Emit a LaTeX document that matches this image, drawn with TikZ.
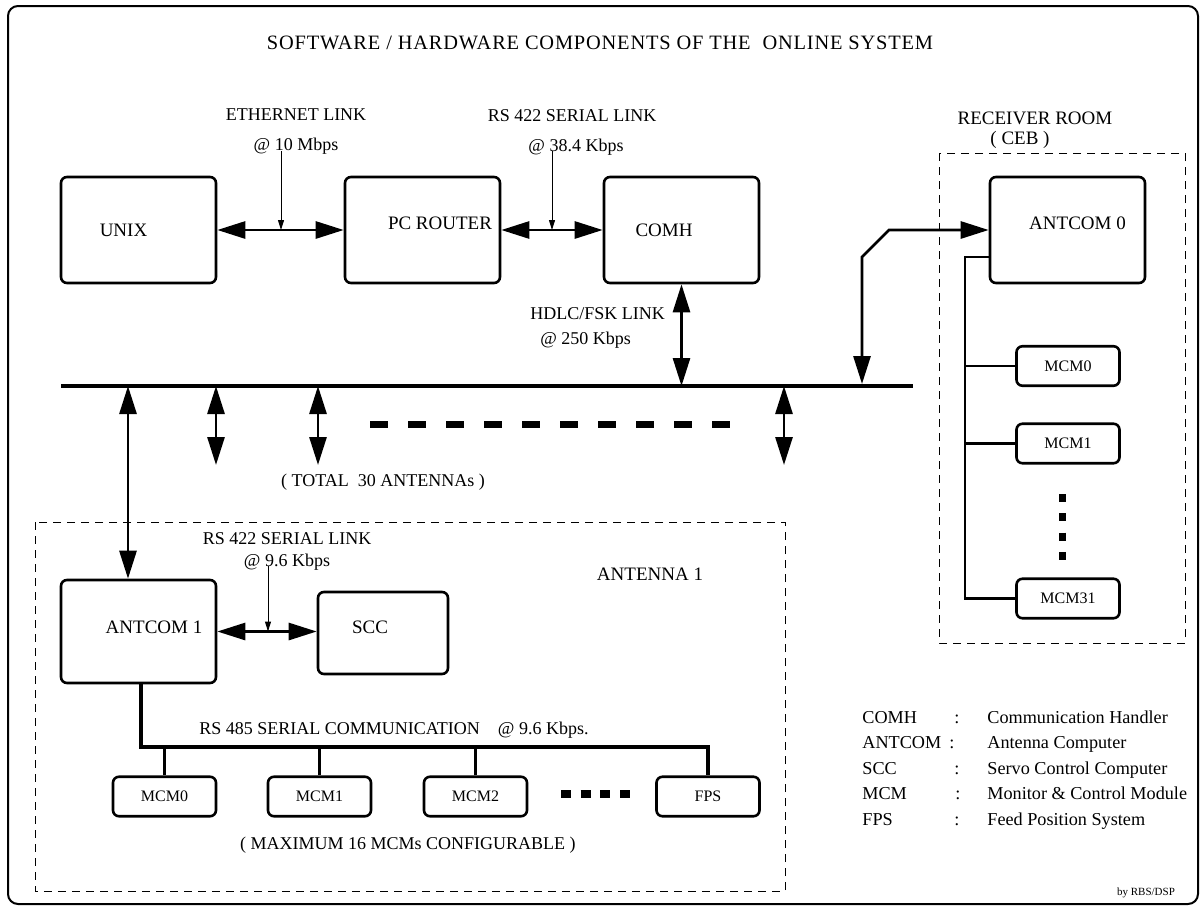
\documentclass[tikz,border=0pt]{standalone}
\usepackage{fontspec}
\setmainfont{Liberation Serif}
\usetikzlibrary{arrows.meta}

\begin{document}
\begin{tikzpicture}
[x=0.5pt, y=-0.5pt,
    box/.style={draw, line width=1.3pt, rounded corners=3pt, inner sep=0pt},
    bigbox/.style={box, minimum width=77.5pt, minimum height=53pt},
    mcm/.style={box, minimum width=51.5pt, minimum height=19.75pt, font=\fontsize{8}{9}\selectfont},
    boxtxt/.style={font=\fontsize{9.5}{11}\selectfont, inner sep=0pt},
    linklabel/.style={font=\fontsize{9}{15}\selectfont, align=center, inner sep=0pt},
    legend/.style={font=\fontsize{9.1}{11}\selectfont, inner sep=0pt},
    zone/.style={draw, line width=0.5pt, dash pattern=on 4pt off 3pt},
    duplex/.style={line width=1.4pt, {Triangle[length=14pt,width=8.5pt]}-{Triangle[length=14pt,width=8.5pt]}},
    feed/.style={line width=0.5pt, -{Triangle[length=5pt,width=3pt]}},
    bus/.style={line width=2.2pt},
    wire/.style={line width=1.3pt}]
    \fill[white] (0,0) rectangle (1201,906);
    \useasboundingbox (0,0) rectangle (1201,906);
    \draw[line width=1pt, rounded corners=5pt] (8,6) rectangle (1198,904);
    \node[font=\fontsize{10.2}{12}\selectfont\addfontfeature{LetterSpace=4}] (title) at (600,43)
        {SOFTWARE / HARDWARE COMPONENTS OF THE\ \ ONLINE SYSTEM};

    \node[bigbox, label={[boxtxt, xshift=-7.5pt]center:UNIX}] (unix) at (138.5,230) {};
    \node[bigbox, label={[boxtxt, xshift=8.75pt, yshift=3.5pt]center:PC ROUTER}] (router) at (422.5,230) {};
    \node[bigbox, label={[boxtxt, xshift=-8.75pt]center:COMH}] (comh) at (681.5,230) {};
    \node[bigbox, label={[boxtxt, xshift=5pt, yshift=3.25pt]center:ANTCOM 0}] (antcom0) at (1067.5,230) {};

    \node[linklabel] (eth) at (296,132) {ETHERNET LINK\\@ 10 Mbps};
    \node[linklabel] (rs38) at (572,132) {RS 422 SERIAL LINK\\\hspace*{4pt}@ 38.4 Kbps};
    \node[linklabel, align=left, anchor=west, font=\fontsize{9}{12.5}\selectfont] (hdlc) at (530,328)
        {HDLC/FSK LINK\\\hspace*{5pt}@ 250 Kbps};
    \node[linklabel, font=\fontsize{9.5}{10}\selectfont] (rxroom) at (1035,130)
        {RECEIVER ROOM\\( CEB )\hspace*{15pt}};

    \draw[duplex] (unix) -- (router);
    \draw[duplex] (router) -- (comh);
    \coordinate (ethT) at (281,230);
    \coordinate (rs38T) at (552,230);
    \draw[feed] ([yshift=2pt]eth.south -| ethT) -- (ethT);
    \draw[feed] ([yshift=2pt]rs38.south -| rs38T) -- (rs38T);

    \coordinate (busW) at (61,386);
    \coordinate (busE) at (913,386);
    \draw[bus] (busW) -- (busE);
    \coordinate (tapH) at (681.5,386);
    \coordinate (tapR) at (862,384);
    \coordinate (tapA) at (128,386);
    \draw[duplex] (comh) -- (tapH);
    \draw[duplex] (tapR) -- (862,257) -- (889,230) -- (antcom0.west);
    \foreach \x in {216,318,784} {
        \coordinate (b\x) at (\x,386);
        \coordinate (e\x) at (\x,465);
        \draw[duplex] (b\x) -- (e\x);
    }
    \draw[line width=3.5pt, dash pattern=on 9pt off 10pt] (370,424) -- (730,424);
    \node[linklabel] (total) at (383,482) {( TOTAL\ \ 30 ANTENNAs )};

    \draw[zone] (939,153) rectangle (1185,643);
    \node[mcm] (rx0) at (1068,366) {MCM0};
    \node[mcm] (rx1) at (1068,443.5) {MCM1};
    \node[mcm] (rx31) at (1068,598.5) {MCM31};
    \coordinate (rxT) at (965,257);
    \draw[wire] (antcom0.west |- rxT) -- (rxT) |- (rx31.west);
    \draw[wire] (rxT |- rx0) -- (rx0);
    \draw[wire] (rxT |- rx1) -- (rx1);
    \draw[line width=3.5pt, dash pattern=on 4pt off 5.65pt] (1062,494) -- (1062,560);

    \draw[zone] (35,522) rectangle (785,891);
    \node[bigbox, minimum height=51.5pt, label={[boxtxt, xshift=7.75pt, yshift=2.25pt]center:ANTCOM 1}] (antcom1) at (138.5,631.5) {};
    \node[box, minimum width=65pt, minimum height=41pt, label={[boxtxt, xshift=-6.5pt, yshift=3pt]center:SCC}] (scc) at (383,633) {};
    \draw[duplex] (tapA) -- (antcom1.north -| tapA);
    \node[linklabel, font=\fontsize{9}{11}\selectfont] (rs96) at (287,551) {RS 422 SERIAL LINK\\@ 9.6 Kbps};
    \node[boxtxt] (ant1) at (650,574) {ANTENNA 1};
    \draw[duplex] (antcom1) -- (antcom1 -| scc.west);
    \coordinate (rs96T) at (268,631.5);
    \draw[feed] ([yshift=2pt]rs96.south -| rs96T) -- (rs96T);

    \node[mcm] (m0) at (164.5,796.5) {MCM0};
    \node[mcm] (m1) at (319.5,796.5) {MCM1};
    \node[mcm] (m2) at (475.5,796.5) {MCM2};
    \node[mcm] (fps) at (708,796.5) {FPS};
    \coordinate (rsW) at (141,747);
    \coordinate (rsE) at (708,747);
    \draw[line width=2pt] (antcom1.south -| rsW) -- (rsW) -- (rsE) -- (fps.north -| rsE);
    \foreach \m in {m0,m1,m2}
        \draw[line width=1.6pt] (\m) -- (\m |- rsW);
    \draw[line width=4pt, dash pattern=on 5pt off 4.85pt] (561,794) -- (630,794);
    \node[linklabel] (rs485) at (394,730) {RS 485 SERIAL COMMUNICATION\quad @ 9.6 Kbps.};
    \node[linklabel] (maxmcm) at (408,845) {( MAXIMUM 16 MCMs CONFIGURABLE )};

    \foreach \ab/\cx/\desc [count=\i] in {COMH/957/Communication Handler, ANTCOM/952/Antenna Computer,
        SCC/957/Servo Control Computer, MCM/958/Monitor \& Control Module, FPS/957/Feed Position System} {
        \node[legend, anchor=base west] (ab\i) at (862,697.4+25.6*\i) {\ab};
        \node[legend, anchor=base] (co\i) at (\cx,697.4+25.6*\i) {:};
        \node[legend, anchor=base west] (de\i) at (987,697.4+25.6*\i) {\desc};
    }
    \node[font=\fontsize{5.5}{7}\selectfont] (sig) at (1146,893) {by RBS/DSP};
\end{tikzpicture}
\end{document}
